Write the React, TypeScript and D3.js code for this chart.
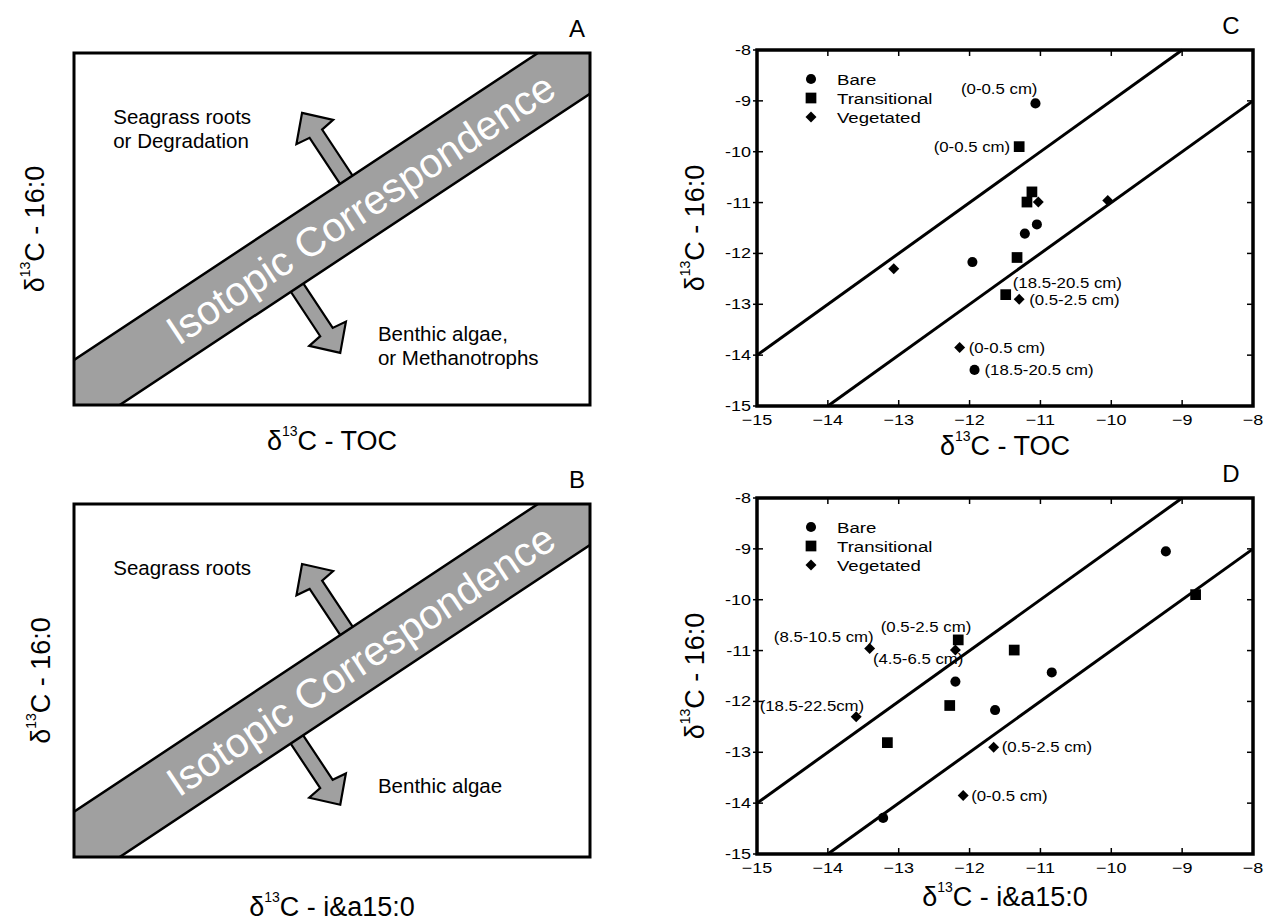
import React from 'react';
import * as d3 from 'd3';

const FONT = '"Liberation Sans", Arial, Helvetica, sans-serif';

// δ13C 16:0 for every sample (shared by panels C and D)
const bare16 = [-9.05, -11.43, -11.61, -12.17, -14.29];
const trans16 = [-9.9, -10.79, -10.99, -12.08, -12.81];
const veg16 = [-10.99, -10.96, -12.3, -12.9, -13.85];

// δ13C TOC (panel C)
const bareTOC = [-11.07, -11.05, -11.22, -11.96, -11.93];
const transTOC = [-11.3, -11.12, -11.19, -11.33, -11.49];
const vegTOC = [-11.03, -10.05, -13.07, -11.3, -12.14];

// δ13C i&a15:0 (panel D)
const bareIA = [-9.23, -10.84, -12.2, -11.64, -13.22];
const transIA = [-8.81, -12.16, -11.37, -12.28, -13.16];
const vegIA = [-12.2, -13.41, -13.6, -11.66, -12.09];

const seriesNames = ['Bare', 'Transitional', 'Vegetated'];
const axisTicks = [-15, -14, -13, -12, -11, -10, -9, -8];
const corrOffsets = [1, -1]; // y = x ± 1

// depth labels: series index, sample index, text
const labelsC = [
  { s: 0, i: 0, text: '(0-0.5 cm)' },
  { s: 1, i: 0, text: '(0-0.5 cm)' },
  { s: 1, i: 4, text: '(18.5-20.5 cm)' },
  { s: 2, i: 3, text: '(0.5-2.5 cm)' },
  { s: 2, i: 4, text: '(0-0.5 cm)' },
  { s: 0, i: 4, text: '(18.5-20.5 cm)' },
];
const labelsD = [
  { s: 2, i: 1, text: '(8.5-10.5 cm)' },
  { s: 1, i: 1, text: '(0.5-2.5 cm)' },
  { s: 2, i: 0, text: '(4.5-6.5 cm)' },
  { s: 2, i: 2, text: '(18.5-22.5cm)' },
  { s: 2, i: 3, text: '(0.5-2.5 cm)' },
  { s: 2, i: 4, text: '(0-0.5 cm)' },
];
// label placement relative to the marker: dx, dy, anchor
const placeC: [number, number, string][] = [
  [2, -9, 'end'], [-9, 5, 'end'], [7, -7, 'start'], [10, 6, 'start'], [9, 5, 'start'], [10, 5, 'start'],
];
const placeD: [number, number, string][] = [
  [4, -7, 'end'], [13, -8, 'end'], [8, 14, 'end'], [8, -6, 'end'], [8, 5, 'start'], [8, 5, 'start'],
];

// schematic panels (A, B) in arbitrary 0-10 units
const bandSlope = 0.97;
const bandUpper = 1.28;
const bandLower = -0.86;
const arrowTips: [number, number, number][] = [[4.42, 8.3, 1], [5.16, 1.48, -1]];
const notesA = { upper: ['Seagrass roots', 'or Degradation'], lower: ['Benthic algae,', 'or Methanotrophs'] };
const notesB = { upper: ['Seagrass roots'], lower: ['Benthic algae'] };
const noteUpperPos = [0.76, 7.98];
const noteLowerPos = [5.89, 1.82];

const symCircle = d3.symbol().type(d3.symbolCircle).size(80)();
const symSquare = d3.symbol().type(d3.symbolSquare).size(115)();
const symDiamond = d3.symbol().type(d3.symbolSquare).size(60)();

function Marker({ s, x, y }: { s: number; x: number; y: number }) {
  if (s === 2) return <path d={symDiamond!} transform={`translate(${x},${y}) rotate(45)`} fill="#000" />;
  return <path d={(s === 0 ? symCircle : symSquare)!} transform={`translate(${x},${y})`} fill="#000" />;
}

const SX = 1.2;
function SText({ x, y, anchor = 'start', size = 14, children }: any) {
  return (
    <text transform={`translate(${x},${y}) scale(${SX},1)`} textAnchor={anchor} fontSize={size} fill="#000">
      {children}
    </text>
  );
}

function IsoTitle({ x, y, rest, rotate = false, size = 27 }: any) {
  return (
    <text
      transform={`translate(${x},${y})${rotate ? ' rotate(-90)' : ''}`}
      textAnchor="middle"
      fontSize={size}
      fill="#000"
    >
      δ<tspan fontSize={14} dy={-14}>13</tspan>
      <tspan dy={14}>C - {rest}</tspan>
    </text>
  );
}

function Scatter({ top, xs, labels, place, letter, xTitle, xTitleDy }: any) {
  const x = d3.scaleLinear().domain([-15, -8]).range([757, 1253]);
  const y = d3.scaleLinear().domain([-15, -8]).range([top + 356, top]);
  const ys = [bare16, trans16, veg16];
  const [x0, x1] = x.range();
  const [y0, y1] = y.range();
  return (
    <g>
      {corrOffsets.map((o) => {
        const a = Math.max(-15, -15 - o);
        const b = Math.min(-8, -8 - o);
        return <line key={o} x1={x(a)} y1={y(a + o)} x2={x(b)} y2={y(b + o)} stroke="#000" strokeWidth={3} />;
      })}
      {axisTicks.map((t) => (
        <g key={t}>
          <line x1={x(t)} x2={x(t)} y1={y0} y2={y0 - 6} stroke="#000" strokeWidth={1.5} />
          <line x1={x(t)} x2={x(t)} y1={y1} y2={y1 + 6} stroke="#000" strokeWidth={1.5} />
          <line x1={x0 - 4} x2={x0 + 6} y1={y(t)} y2={y(t)} stroke="#000" strokeWidth={1.5} />
          <line x1={x1 - 6} x2={x1} y1={y(t)} y2={y(t)} stroke="#000" strokeWidth={1.5} />
          <SText x={x(t)} y={y0 + 19} anchor="middle" size={15}>{'\u2212' + Math.abs(t)}</SText>
          <SText x={x0 - 6} y={y(t) + 5} anchor="end" size={15}>{'-' + Math.abs(t)}</SText>
        </g>
      ))}
      <rect x={x0} y={y1} width={x1 - x0} height={y0 - y1} fill="none" stroke="#000" strokeWidth={3.5} />
      {ys.map((yv, s) =>
        yv.map((v, i) => <Marker key={`${s}-${i}`} s={s} x={x(xs[s][i])} y={y(v)} />)
      )}
      {labels.map((l: any, k: number) => {
        const [dx, dy, anchor] = place[k];
        return (
          <SText key={k} x={x(xs[l.s][l.i]) + dx} y={y(ys[l.s][l.i]) + dy} anchor={anchor} size={14}>
            {l.text}
          </SText>
        );
      })}
      {seriesNames.map((n, s) => (
        <g key={n}>
          <Marker s={s} x={x0 + 54} y={y1 + 29 + s * 19} />
          <SText x={x0 + 80} y={y1 + 35 + s * 19} size={15.5}>{n}</SText>
        </g>
      ))}
      <text x={1231} y={top - 16} textAnchor="middle" fontSize={24}>{letter}</text>
      <IsoTitle x={704} y={top + 178} rest="16:0" rotate />
      <IsoTitle x={1005} y={top + 356 + xTitleDy} rest={xTitle} />
    </g>
  );
}

function Schematic({ top, bottom, notes, letter, xTitle, xTitleY, yTitleX }: any) {
  const x = d3.scaleLinear().domain([0, 10]).range([74, 590]);
  const y = d3.scaleLinear().domain([0, 10]).range([bottom, top]);
  const clipId = `clip-${letter}`;
  const band = [
    [-1, -bandSlope + bandUpper],
    [11, 11 * bandSlope + bandUpper],
    [11, 11 * bandSlope + bandLower],
    [-1, -bandSlope + bandLower],
  ];
  const bandPath = d3.line()(band.map(([a, b]) => [x(a), y(b)]) as [number, number][]) + 'Z';
  // band slope in pixels and the unit normal pointing down-right
  const mPx = (bandSlope * (y(0) - y(1))) / (x(1) - x(0));
  const len = Math.hypot(mPx, 1);
  const d = [mPx / len, 1 / len];
  const n = [d[1], -d[0]];
  const shape = [[0, 0], [23, 22], [25, 7.5], [100, 7.5], [100, -7.5], [25, -7.5], [23, -22]];
  const angle = (-Math.atan(mPx) * 180) / Math.PI;
  const cx = 5.55;
  const cy = bandSlope * cx + (bandUpper + bandLower) / 2;
  return (
    <g>
      <defs>
        <clipPath id={clipId}>
          <rect x={x(0)} y={y(10)} width={x(10) - x(0)} height={y(0) - y(10)} />
        </clipPath>
      </defs>
      {arrowTips.map(([tx, ty, dir], k) => {
        const px = x(tx);
        const py = y(ty);
        const pts = shape.map(([u, v]) => [px + dir * u * d[0] + v * n[0], py + dir * u * d[1] + v * n[1]]);
        return (
          <path
            key={k}
            d={d3.line()(pts as [number, number][]) + 'Z'}
            fill="#a0a0a0"
            stroke="#000"
            strokeWidth={2.2}
            strokeLinejoin="miter"
          />
        );
      })}
      <path d={bandPath} fill="#a0a0a0" stroke="#000" strokeWidth={2.5} clipPath={`url(#${clipId})`} />
      <text
        transform={`translate(${x(cx)},${y(cy)}) rotate(${angle})`}
        textAnchor="middle"
        dy="0.36em"
        fontSize={41}
        fill="#fff"
      >
        Isotopic Correspondence
      </text>
      <rect x={x(0)} y={y(10)} width={x(10) - x(0)} height={y(0) - y(10)} fill="none" stroke="#000" strokeWidth={3} />
      {notes.upper.map((t: string, i: number) => (
        <text key={t} x={x(noteUpperPos[0])} y={y(noteUpperPos[1]) + i * 24} fontSize={20.5}>{t}</text>
      ))}
      {notes.lower.map((t: string, i: number) => (
        <text key={t} x={x(noteLowerPos[0])} y={y(noteLowerPos[1]) + i * 24} fontSize={20.5}>{t}</text>
      ))}
      <text x={577} y={top - 16} textAnchor="middle" fontSize={24}>{letter}</text>
      <IsoTitle x={yTitleX} y={(top + bottom) / 2} rest="16:0" rotate />
      <IsoTitle x={332} y={xTitleY} rest={xTitle} />
    </g>
  );
}

export default function App() {
  return (
    <svg
      width={1264}
      height={923}
      style={{ position: 'absolute', left: 0, top: 0, background: '#fff' }}
      fontFamily={FONT}
    >
      <Schematic top={53} bottom={405} notes={notesA} letter="A" xTitle="TOC" xTitleY={450} yTitleX={44} />
      <Schematic top={504} bottom={857} notes={notesB} letter="B" xTitle="i&a15:0" xTitleY={916} yTitleX={50} />
      <Scatter top={50} xs={[bareTOC, transTOC, vegTOC]} labels={labelsC} place={placeC} letter="C" xTitle="TOC" xTitleDy={49} />
      <Scatter top={498} xs={[bareIA, transIA, vegIA]} labels={labelsD} place={placeD} letter="D" xTitle="i&a15:0" xTitleDy={52} />
    </svg>
  );
}
